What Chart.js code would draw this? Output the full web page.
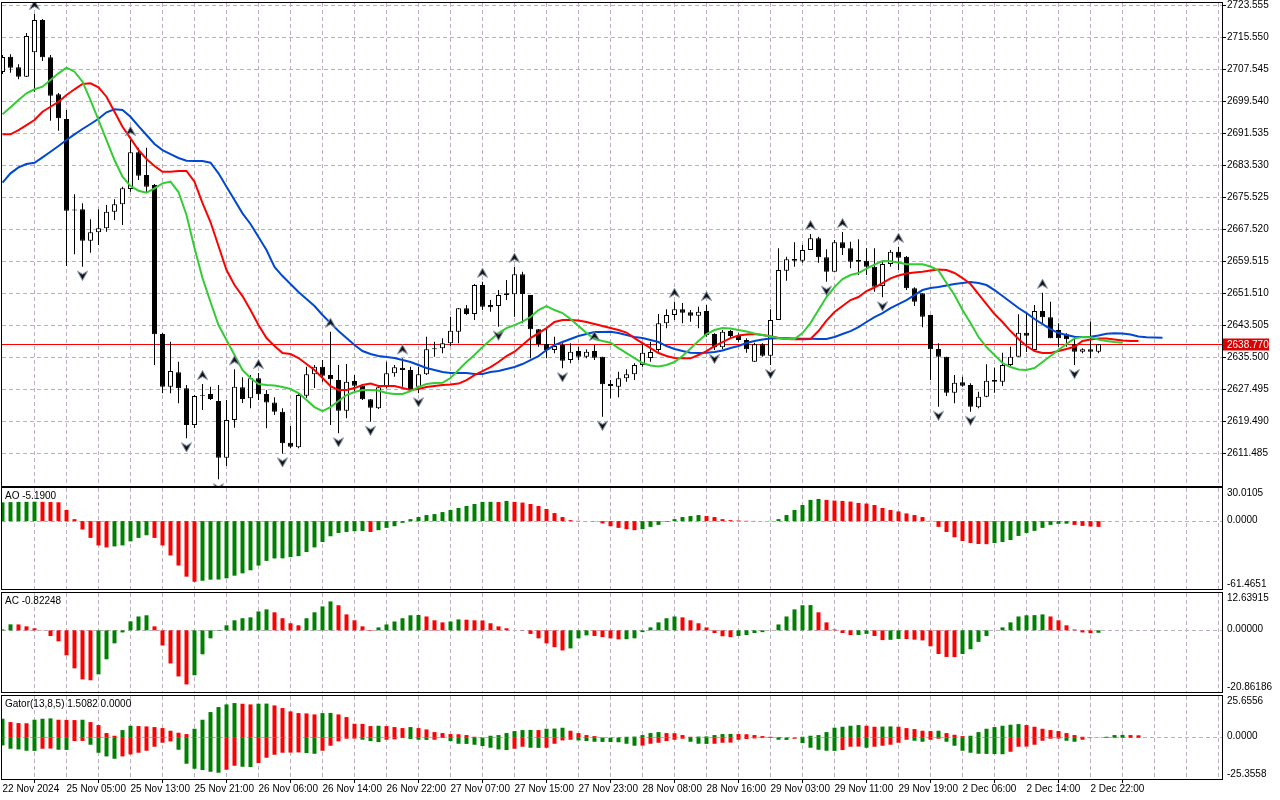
<!DOCTYPE html>
<html>
<head>
<meta charset="utf-8">
<title>XAUUSD H1</title>
<script src="https://cdn.jsdelivr.net/npm/chart.js@4.4.1/dist/chart.umd.min.js"></script>
<style>
  html, body { margin: 0; padding: 0; background: #fff; }
  #wrap { position: relative; width: 1280px; height: 800px; overflow: hidden; }
  canvas { position: absolute; left: 0; }
</style>
</head>
<body>
<div id="wrap">
  <canvas id="js--main" width="1280" height="487" style="top:0px"></canvas>
  <canvas id="js--ao" width="1280" height="103" style="top:487px"></canvas>
  <canvas id="js--ac" width="1280" height="104" style="top:590px"></canvas>
  <canvas id="js--gator" width="1280" height="106" style="top:694px"></canvas>
</div>
<script>
// time axis, one label every 8 bars
const timeLabels = ['22 Nov 2024', '25 Nov 05:00', '25 Nov 13:00', '25 Nov 21:00', '26 Nov 06:00', '26 Nov 14:00',
  '26 Nov 22:00', '27 Nov 07:00', '27 Nov 15:00', '27 Nov 23:00', '28 Nov 08:00', '28 Nov 16:00',
  '29 Nov 03:00', '29 Nov 11:00', '29 Nov 19:00', '2 Dec 06:00', '2 Dec 14:00', '2 Dec 22:00'];

const priceTicks = [2723.555, 2715.550, 2707.545, 2699.540, 2691.535, 2683.530, 2675.525, 2667.520,
  2659.515, 2651.510, 2643.505, 2635.500, 2627.495, 2619.490, 2611.485];
const lastPrice = 2638.77;

// candles (H1)
const opens = [2706.87, 2710.69, 2708.04, 2705.69, 2711.79, 2719.88, 2710.54, 2701.29, 2695.11, 2672.46,
  2672.51, 2664.66, 2666.76, 2667.76, 2671.91, 2673.76, 2677.59, 2686.77, 2681.09, 2678.59,
  2641.31, 2628.13, 2631.73, 2627.73, 2618.54, 2625.98, 2626.30, 2624.55, 2610.36, 2619.80,
  2627.98, 2625.23, 2630.23, 2626.30, 2624.22, 2621.87, 2614.12, 2612.97, 2625.88, 2631.23,
  2633.13, 2631.05, 2629.80, 2622.12, 2629.55, 2628.38, 2624.98, 2622.72, 2628.13, 2631.48,
  2632.88, 2632.31, 2628.13, 2631.23, 2637.74, 2637.74, 2638.99, 2641.89, 2647.74, 2646.32,
  2653.57, 2648.57, 2648.32, 2651.50, 2651.25, 2656.25, 2651.07, 2642.49, 2638.81, 2637.31,
  2638.56, 2634.81, 2637.06, 2635.63, 2637.06, 2635.63, 2628.80, 2628.13, 2630.23, 2631.23,
  2633.56, 2635.31, 2637.31, 2643.99, 2646.07, 2647.49, 2646.74, 2645.89, 2647.07, 2641.31,
  2637.99, 2642.06, 2640.81, 2639.81, 2634.38, 2638.74, 2635.89, 2644.82, 2657.15, 2660.08,
  2659.65, 2662.33, 2665.26, 2660.50, 2656.90, 2664.26, 2662.76, 2659.83, 2659.65, 2658.15,
  2653.32, 2658.83, 2661.90, 2660.65, 2652.75, 2651.50, 2646.07, 2637.56, 2635.63, 2626.63,
  2629.23, 2628.55, 2622.97, 2625.63, 2629.80, 2629.38, 2633.56, 2635.63, 2641.64, 2637.31,
  2647.07, 2645.49, 2642.31, 2641.24, 2638.74, 2636.89, 2637.49, 2636.89];
const highs = [2711.12, 2711.29, 2708.79, 2716.62, 2721.38, 2720.13, 2711.12, 2701.61, 2697.36, 2676.27,
  2674.01, 2670.01, 2672.51, 2673.59, 2675.02, 2678.17, 2689.85, 2687.93, 2687.93, 2678.84,
  2641.56, 2639.39, 2634.38, 2628.55, 2626.05, 2628.80, 2628.13, 2628.55, 2624.80, 2632.48,
  2630.48, 2631.05, 2631.56, 2627.30, 2625.48, 2622.72, 2618.29, 2626.30, 2633.13, 2633.56,
  2634.81, 2641.89, 2633.56, 2633.81, 2631.05, 2628.80, 2625.05, 2628.13, 2634.38, 2633.56,
  2635.23, 2633.13, 2633.13, 2640.64, 2639.39, 2640.24, 2645.64, 2647.82, 2648.57, 2653.82,
  2654.40, 2649.82, 2652.32, 2654.82, 2658.15, 2656.90, 2651.07, 2642.56, 2642.81, 2640.64,
  2638.99, 2638.99, 2638.14, 2637.49, 2638.56, 2635.63, 2629.80, 2631.88, 2632.48, 2633.98,
  2638.99, 2639.39, 2646.32, 2647.49, 2649.39, 2649.07, 2647.32, 2648.14, 2648.57, 2641.49,
  2642.31, 2642.31, 2641.49, 2640.24, 2639.14, 2638.99, 2647.49, 2662.76, 2660.65, 2664.26,
  2663.58, 2666.33, 2665.66, 2662.51, 2664.83, 2666.83, 2664.41, 2665.01, 2662.76, 2662.76,
  2659.40, 2662.33, 2663.16, 2660.83, 2653.00, 2651.50, 2646.07, 2638.99, 2635.63, 2631.05,
  2630.63, 2628.98, 2626.88, 2633.73, 2632.88, 2636.63, 2638.14, 2646.24, 2646.32, 2648.57,
  2651.65, 2649.39, 2643.99, 2641.49, 2640.64, 2637.74, 2644.39, 2638.80];
const lows = [2706.37, 2706.69, 2705.04, 2705.61, 2701.94, 2709.62, 2694.68, 2692.18, 2658.33, 2661.25,
  2658.15, 2661.65, 2663.58, 2666.91, 2669.84, 2668.58, 2676.92, 2679.84, 2676.59, 2633.56,
  2626.48, 2626.48, 2623.97, 2615.22, 2617.79, 2622.30, 2624.80, 2604.96, 2608.29, 2617.87,
  2624.05, 2622.72, 2624.80, 2617.72, 2621.05, 2611.46, 2612.72, 2612.72, 2625.30, 2627.80,
  2629.38, 2618.54, 2616.47, 2620.22, 2626.48, 2624.80, 2619.37, 2622.55, 2627.73, 2630.63,
  2628.13, 2627.30, 2626.48, 2631.05, 2635.63, 2636.48, 2638.31, 2638.99, 2646.07, 2644.82,
  2647.32, 2646.89, 2643.14, 2649.82, 2645.64, 2643.99, 2635.23, 2638.14, 2635.23, 2636.48,
  2632.73, 2633.98, 2634.81, 2635.23, 2634.81, 2620.62, 2625.23, 2625.48, 2629.38, 2629.80,
  2633.13, 2634.38, 2636.89, 2642.74, 2644.82, 2643.99, 2644.39, 2642.74, 2640.64, 2637.31,
  2637.49, 2640.24, 2639.39, 2636.63, 2634.38, 2635.63, 2633.56, 2644.82, 2654.65, 2658.15,
  2659.15, 2662.33, 2659.15, 2654.40, 2656.90, 2661.08, 2657.75, 2656.07, 2656.07, 2651.90,
  2650.50, 2658.15, 2657.33, 2652.32, 2648.32, 2642.99, 2629.80, 2623.12, 2625.80, 2623.97,
  2628.13, 2621.87, 2622.72, 2625.48, 2626.63, 2628.30, 2632.98, 2635.63, 2636.81, 2636.81,
  2643.99, 2640.24, 2638.14, 2638.14, 2633.56, 2636.48, 2635.23, 2636.48];
const closes = [2710.62, 2707.94, 2705.69, 2715.87, 2719.88, 2710.54, 2700.94, 2695.28, 2672.16, 2672.21,
  2664.66, 2666.76, 2667.76, 2671.91, 2673.76, 2677.77, 2686.77, 2680.92, 2678.17, 2641.24,
  2628.13, 2632.06, 2627.73, 2618.54, 2625.80, 2625.80, 2625.05, 2610.36, 2619.80, 2628.13,
  2625.05, 2630.23, 2626.23, 2624.22, 2621.87, 2613.97, 2613.12, 2626.05, 2631.23, 2633.13,
  2630.88, 2629.98, 2622.12, 2629.38, 2628.38, 2624.98, 2622.87, 2627.98, 2631.48, 2632.98,
  2632.31, 2627.55, 2631.23, 2637.49, 2637.49, 2638.99, 2642.14, 2647.74, 2646.32, 2653.57,
  2648.14, 2647.99, 2651.07, 2651.07, 2656.25, 2651.32, 2642.49, 2638.81, 2637.31, 2638.31,
  2634.63, 2636.89, 2635.63, 2636.89, 2635.38, 2628.73, 2628.30, 2630.23, 2631.23, 2633.56,
  2636.63, 2636.81, 2643.99, 2646.07, 2647.49, 2646.64, 2645.89, 2646.89, 2641.06, 2637.99,
  2641.89, 2640.81, 2639.81, 2637.49, 2638.74, 2635.89, 2644.82, 2657.33, 2660.00, 2659.65,
  2662.33, 2665.26, 2660.50, 2656.90, 2664.26, 2662.76, 2659.40, 2659.40, 2658.15, 2653.15,
  2658.83, 2661.90, 2660.40, 2652.75, 2649.39, 2645.64, 2637.49, 2635.63, 2626.63, 2629.13,
  2628.38, 2623.12, 2625.63, 2629.63, 2629.38, 2633.56, 2635.63, 2641.64, 2640.89, 2647.07,
  2645.49, 2640.24, 2640.24, 2639.99, 2636.89, 2637.49, 2636.89, 2638.77];

// Alligator (jaw shifted 8, teeth 5, lips 3 bars forward)
const jaw = [2679.17, 2681.52, 2683.02, 2683.85, 2684.17, 2685.52, 2686.93, 2688.35, 2689.85, 2691.28,
  2692.60, 2693.86, 2695.18, 2696.78, 2697.53, 2697.36, 2695.68, 2693.35, 2691.10, 2688.85,
  2687.35, 2686.35, 2685.35, 2684.67, 2684.60, 2684.60, 2684.17, 2681.52, 2678.17, 2674.84,
  2671.51, 2668.84, 2665.58, 2662.33, 2658.08, 2655.82, 2653.82, 2651.82, 2650.07, 2648.32,
  2646.07, 2644.07, 2642.06, 2640.31, 2638.56, 2637.06, 2636.31, 2635.81, 2635.56, 2635.31,
  2634.81, 2634.31, 2633.56, 2632.81, 2632.31, 2631.81, 2631.56, 2631.56, 2631.56, 2631.31,
  2631.31, 2631.81, 2632.06, 2632.56, 2633.06, 2633.81, 2634.81, 2635.81, 2637.31, 2638.56,
  2639.31, 2640.06, 2640.81, 2641.31, 2641.81, 2641.81, 2641.89, 2641.56, 2641.06, 2640.56,
  2640.31, 2639.81, 2639.31, 2638.31, 2637.56, 2637.06, 2636.63, 2636.56, 2636.63, 2636.81,
  2637.18, 2637.81, 2638.31, 2639.06, 2639.56, 2639.94, 2640.19, 2640.24, 2640.24, 2640.19,
  2640.16, 2640.14, 2640.06, 2640.06, 2640.56, 2641.31, 2642.06, 2643.06, 2644.32, 2645.57,
  2646.57, 2647.82, 2648.82, 2649.82, 2651.07, 2652.32, 2652.82, 2653.07, 2653.45, 2653.82,
  2654.07, 2654.32, 2654.07, 2653.57, 2652.32, 2650.82, 2649.32, 2647.82, 2646.57, 2645.07,
  2643.82, 2642.56, 2641.56, 2641.06, 2640.64, 2640.56, 2640.64, 2640.94, 2641.36, 2641.49,
  2641.44, 2641.19, 2640.69, 2640.51, 2640.44, 2640.39];
const teeth = [2691.28, 2691.28, 2692.35, 2693.60, 2694.86, 2696.93, 2698.18, 2699.43, 2701.11, 2702.54,
  2703.86, 2704.04, 2703.04, 2700.69, 2696.93, 2693.18, 2690.28, 2687.35, 2685.10, 2683.35,
  2681.92, 2681.92, 2682.10, 2682.10, 2679.42, 2674.09, 2669.34, 2663.33, 2657.33, 2653.57,
  2650.82, 2647.32, 2643.56, 2640.31, 2638.31, 2636.56, 2636.31, 2635.31, 2633.81, 2632.31,
  2630.30, 2628.30, 2627.30, 2627.30, 2627.80, 2628.55, 2628.93, 2628.30, 2628.30, 2628.30,
  2627.80, 2627.30, 2627.55, 2628.05, 2628.30, 2628.55, 2628.68, 2628.93, 2629.80, 2631.05,
  2632.06, 2633.06, 2634.31, 2635.81, 2636.89, 2638.56, 2640.31, 2641.56, 2642.81, 2644.32,
  2644.82, 2644.82, 2644.69, 2644.32, 2643.82, 2643.31, 2642.81, 2642.31, 2641.69, 2640.31,
  2639.06, 2637.81, 2636.56, 2635.81, 2635.31, 2635.23, 2635.23, 2636.06, 2637.06, 2638.31,
  2639.31, 2640.31, 2640.94, 2641.19, 2641.31, 2641.06, 2640.74, 2640.31, 2640.06, 2639.99,
  2639.99, 2640.06, 2642.06, 2644.69, 2646.82, 2648.32, 2649.82, 2650.57, 2652.07, 2652.95,
  2654.07, 2655.25, 2655.95, 2656.45, 2656.70, 2656.90, 2657.20, 2657.45, 2657.33, 2656.58,
  2655.32, 2653.82, 2651.32, 2648.82, 2646.32, 2644.32, 2642.06, 2640.06, 2638.31, 2637.06,
  2636.56, 2636.56, 2637.06, 2637.56, 2638.14, 2639.56, 2639.94, 2640.19, 2640.19, 2639.94,
  2639.69, 2639.56, 2639.56];
const lips = [2696.28, 2698.03, 2699.86, 2701.54, 2702.54, 2703.19, 2704.86, 2706.54, 2707.94, 2706.94,
  2704.44, 2699.86, 2694.86, 2689.85, 2684.85, 2680.67, 2678.34, 2677.17, 2676.67, 2677.77,
  2679.02, 2679.42, 2676.84, 2671.09, 2662.83, 2655.32, 2649.32, 2643.56, 2639.81, 2636.06,
  2632.31, 2630.30, 2628.80, 2628.55, 2628.43, 2628.05, 2627.55, 2626.55, 2624.80, 2623.05,
  2622.05, 2623.05, 2624.55, 2626.05, 2626.80, 2627.30, 2627.30, 2627.18, 2626.55, 2626.30,
  2626.30, 2627.05, 2628.05, 2628.80, 2629.05, 2629.13, 2630.30, 2632.31, 2634.31, 2636.06,
  2638.06, 2639.81, 2641.56, 2642.81, 2643.56, 2644.44, 2645.57, 2647.32, 2648.32, 2647.32,
  2646.57, 2645.07, 2643.31, 2641.56, 2640.06, 2639.56, 2639.14, 2637.81, 2636.56, 2635.31,
  2634.06, 2633.43, 2633.18, 2633.56, 2634.31, 2635.81, 2637.69, 2639.56, 2641.31, 2642.31,
  2642.81, 2642.69, 2642.31, 2641.94, 2641.44, 2641.06, 2640.69, 2640.31, 2640.06, 2640.06,
  2641.56, 2644.07, 2647.32, 2650.57, 2653.07, 2655.07, 2656.07, 2656.58, 2657.70, 2658.70,
  2659.58, 2659.50, 2659.20, 2658.75, 2658.75, 2658.75, 2658.20, 2657.20, 2654.07, 2651.07,
  2647.32, 2644.07, 2640.56, 2638.06, 2636.06, 2634.06, 2633.06, 2632.43, 2632.31, 2632.81,
  2634.31, 2635.81, 2637.31, 2638.81, 2640.24, 2640.56, 2640.49, 2639.94, 2639.56, 2639.31,
  2639.14];

// bar indexes that carry a fractal
const fractalUp = [4, 16, 25, 29, 32, 41, 50, 60, 64, 74, 84, 88, 101, 105, 112, 130];
const fractalDown = [10, 23, 27, 35, 42, 46, 52, 62, 70, 75, 89, 96, 103, 110, 117, 121, 134];

// sub windows
const ao = [17.0, 17.2, 17.4, 17.5, 17.6, 17.5, 17.3, 17.1, 10.1, 1.8,
  -7.6, -15.2, -22.0, -23.8, -22.9, -22.0, -18.3, -15.2, -12.8, -15.2,
  -22.0, -31.1, -40.2, -50.3, -54.9, -54.0, -53.0, -52.9, -51.8, -49.4,
  -47.3, -44.5, -40.2, -36.0, -33.8, -33.7, -32.6, -31.7, -28.0, -23.8,
  -18.9, -13.7, -10.7, -9.8, -9.1, -8.9, -9.8, -8.2, -6.1, -4.6,
  -1.5, 1.8, 3.7, 5.5, 6.4, 8.2, 10.1, 11.9, 13.7, 15.5,
  17.4, 17.5, 17.3, 18.3, 17.4, 16.8, 15.5, 13.7, 11.0, 7.3,
  3.7, 0.9, 0.3, 0.1, -0.3, -2.1, -4.6, -6.1, -7.3, -8.2,
  -7.3, -5.2, -3.4, -0.6, 1.8, 3.7, 4.6, 5.5, 4.6, 3.7,
  1.8, 0.9, 0.6, 0.3, 0.2, 0.1, 0.3, 1.8, 5.5, 10.1,
  14.6, 19.2, 20.1, 19.2, 18.6, 18.3, 17.7, 16.5, 15.9, 14.6,
  11.9, 10.1, 8.8, 7.0, 5.5, 3.7, 0.3, -5.2, -9.8, -14.6,
  -18.0, -19.8, -20.7, -20.9, -19.8, -18.9, -17.1, -13.4, -10.7, -8.8,
  -6.1, -3.4, -2.4, -2.3, -3.4, -4.3, -4.9, -5.19];
const ac = [0.3, 2.03, 2.0, 1.35, 0.68, -0.05, -1.92, -3.72, -8.46, -12.85,
  -16.6, -16.9, -14.9, -9.8, -4.4, -0.7, 3.04, 4.7, 5.1, 1.35,
  -5.1, -11.2, -15.6, -18.3, -15.2, -8.1, -2.7, -0.2, 1.7, 3.4,
  4.1, 4.4, 6.4, 7.1, 6.1, 4.1, 2.4, 1.7, 4.1, 6.1,
  8.1, 9.8, 8.5, 5.4, 3.4, 1.35, -0.2, 1.0, 2.0, 3.0,
  4.1, 5.1, 5.2, 4.7, 3.4, 2.7, 3.0, 3.7, 3.6, 3.4,
  3.35, 2.4, 1.35, 0.7, 0.0, -0.1, -1.2, -2.7, -4.4, -5.7,
  -6.8, -6.1, -2.7, -1.7, -1.9, -2.3, -2.7, -3.05, -3.0, -2.7,
  -0.6, 1.0, 2.7, 4.1, 4.7, 4.4, 3.4, 2.4, 1.0, -0.9,
  -2.0, -2.3, -1.9, -1.6, -0.9, -0.6, 0.05, 2.0, 4.7, 7.1,
  8.5, 8.55, 6.1, 2.7, 0.3, -0.9, -1.6, -1.55, -1.2, -1.9,
  -3.3, -3.2, -2.9, -2.95, -3.15, -3.4, -5.4, -8.0, -9.0, -9.05,
  -8.0, -6.4, -3.9, -1.9, 0.0, 1.0, 2.7, 4.7, 5.1, 5.15,
  5.4, 4.7, 3.4, 1.7, 0.3, -0.7, -0.95, -0.82248];
const gatorUp = [11.68, 9.63, 9.02, 8.91, 11.07, 11.68, 11.89, 11.07, 10.96, 10.86,
  11.07, 9.63, 7.79, 2.87, 1.23, 4.71, 7.38, 7.17, 6.97, 6.56,
  5.94, 4.30, 3.07, 2.25, 5.53, 11.07, 15.78, 18.85, 20.49, 21.31,
  20.90, 20.49, 20.90, 21.00, 19.88, 18.24, 16.19, 15.16, 14.96, 14.34,
  15.16, 15.27, 14.34, 12.70, 8.61, 8.50, 7.17, 7.38, 7.17, 6.56,
  5.94, 6.56, 5.94, 5.12, 3.48, 2.87, 2.25, 2.15, 1.64, 0.61,
  0.20, 1.23, 1.64, 2.87, 4.10, 4.71, 4.82, 4.71, 5.53, 5.64,
  6.15, 4.30, 2.87, 1.64, 1.02, 0.20, 0.10, 0.20, 0.61, 0.72,
  1.64, 2.87, 3.48, 2.87, 2.77, 1.64, 0.61, 0.72, 0.82, 1.64,
  2.25, 2.36, 2.25, 2.15, 1.64, 1.02, 0.61, 0.41, 0.20, 0.10,
  0.61, 1.23, 1.64, 3.48, 6.15, 6.76, 7.38, 7.79, 7.38, 6.76,
  6.86, 6.97, 6.76, 5.94, 5.33, 4.30, 4.10, 4.30, 2.87, 1.84,
  1.02, 1.23, 3.48, 5.53, 6.56, 7.38, 7.99, 8.40, 7.79, 6.76,
  5.53, 4.71, 4.10, 2.87, 1.64, 0.61, 0.10, 0.04, 0.61, 1.64,
  1.74, 1.64, 1.5082];
const gatorDown = [-4.71, -6.76, -7.17, -7.99, -8.09, -6.76, -6.66, -7.38, -7.48, -2.05,
  -1.95, -4.30, -9.22, -11.48, -12.91, -11.48, -10.25, -9.22, -7.99, -5.53,
  -3.07, -2.25, -7.38, -15.98, -19.06, -19.88, -20.90, -21.52, -19.67, -17.21,
  -17.83, -18.03, -15.57, -12.30, -10.45, -9.22, -9.12, -9.02, -9.43, -9.84,
  -7.99, -4.92, -2.25, -0.61, -0.51, -1.23, -2.05, -2.66, -1.23, -1.02,
  -0.20, -0.82, -1.23, -1.33, -1.23, -0.20, -2.05, -3.69, -3.79, -4.30,
  -5.12, -6.15, -7.17, -7.58, -6.76, -5.53, -6.15, -6.25, -6.15, -3.69,
  -1.64, -1.23, -1.64, -2.05, -2.46, -2.56, -2.66, -2.77, -3.69, -4.92,
  -4.82, -3.69, -3.07, -2.05, -1.23, -0.61, -2.46, -3.69, -3.79, -3.69,
  -3.07, -2.97, -1.23, -0.82, -0.41, -0.20, -0.10, -1.23, -1.33, -0.61,
  -3.28, -6.15, -7.38, -7.99, -8.09, -7.58, -5.53, -5.43, -6.15, -5.53,
  -4.92, -4.30, -3.07, -1.23, -1.84, -2.46, -1.23, -0.61, -2.46, -4.92,
  -7.99, -9.22, -9.84, -9.94, -10.04, -10.14, -8.61, -5.53, -5.43, -4.30,
  -1.84, -0.61, -0.51, -1.84, -2.46, -1.23, -0.20, -0.10, -0.06, -0.02,
  0];

const aoRange = [-61.4651, 30.0105];
const acRange = [-20.86186, 12.63915];
const gatorRange = [-25.3558, 25.6556];

// ---- styling ----
const FONT = '"Liberation Sans", Arial, sans-serif';
const FONT_SIZE = 10;
const GRID = '#bdb1c0';
const UP_GREEN = '#008000';
const DOWN_RED = '#ff0000';
const X_MIN = -0.0625;          // 8 px per bar, first bar at x=2.5
const X_MAX = X_MIN + 1220 / 8;

const pts = arr => arr.map((v, i) => ({ x: i, y: v }));

// AO / AC: green while the value rises
function trendColors(arr) {
  return arr.map((v, i) => (i === 0 || v > arr[i - 1]) ? UP_GREEN : DOWN_RED);
}
// Gator: green while the bar grows
function sizeColors(arr) {
  return arr.map((v, i) => (i === 0 || Math.abs(v) > Math.abs(arr[i - 1])) ? UP_GREEN : DOWN_RED);
}

function makeArrow(up) {
  const c = document.createElement('canvas');
  c.width = 11;
  c.height = 28;
  const g = c.getContext('2d');
  if (!up) {
    g.translate(0, 28);
    g.scale(1, -1);
  }
  g.beginPath();
  g.moveTo(5.5, 0.5);
  g.lineTo(10.5, 9.5);
  g.lineTo(5.5, 6.5);
  g.lineTo(0.5, 9.5);
  g.closePath();
  g.fillStyle = '#111';
  g.fill();
  g.strokeStyle = '#7f8ea8';
  g.lineWidth = 1;
  g.stroke();
  return c;
}

// no extra room for the first/last tick labels
function noPad(s) {
  s.paddingTop = 0;
  s.paddingBottom = 0;
  s.paddingLeft = 0;
  s.paddingRight = 0;
}

// grid, frame, labels and current price marker
const decor = {
  id: 'decor',
  beforeDatasetsDraw(chart, args, opts) {
    const { ctx, chartArea: a, scales: { x, y } } = chart;
    ctx.save();
    ctx.strokeStyle = GRID;
    ctx.lineWidth = 1;
    ctx.setLineDash([4, 3]);
    ctx.beginPath();
    for (let i = 4; i < X_MAX; i += 4) {
      const px = Math.floor(x.getPixelForValue(i)) + 0.5;
      ctx.moveTo(px, a.top);
      ctx.lineTo(px, a.bottom);
    }
    (opts.hLines || []).forEach(v => {
      const py = Math.floor(y.getPixelForValue(v)) + 0.5;
      ctx.moveTo(a.left, py);
      ctx.lineTo(a.right, py);
    });
    ctx.stroke();
    ctx.setLineDash([]);
    if (opts.price !== undefined) {
      const py = Math.floor(y.getPixelForValue(opts.price)) + 0.5;
      ctx.strokeStyle = '#ff0000';
      ctx.beginPath();
      ctx.moveTo(a.left, py);
      ctx.lineTo(a.right, py);
      ctx.stroke();
    }
    ctx.restore();
  },
  afterDraw(chart, args, opts) {
    const { ctx, chartArea: a, scales: { y } } = chart;
    ctx.save();
    ctx.strokeStyle = '#000';
    ctx.lineWidth = 1;
    ctx.strokeRect(a.left - 0.5, a.top - 0.5, a.right - a.left + 1, a.bottom - a.top + 1);
    ctx.font = FONT_SIZE + 'px ' + FONT;
    ctx.fillStyle = '#000';
    ctx.textBaseline = 'middle';
    ctx.textAlign = 'left';
    if (opts.title) {
      ctx.fillText(opts.title, 5, a.top + 8.5);
    }
    if (opts.range) {
      const d = opts.digits;
      ctx.fillText(opts.range[1].toFixed(d), a.right + 5, a.top + 5);
      ctx.fillText((0).toFixed(d), a.right + 5, y.getPixelForValue(0) - 1);
      ctx.fillText(opts.range[0].toFixed(d), a.right + 5, a.bottom - 5);
    }
    if (opts.price !== undefined) {
      const py = Math.floor(y.getPixelForValue(opts.price)) + 0.5;
      ctx.fillStyle = '#dc0000';
      ctx.fillRect(a.right + 1, py - 6, 46, 12);
      ctx.fillStyle = '#fff';
      ctx.fillText(opts.price.toFixed(3), a.right + 5, py + 0.5);
    }
    ctx.restore();
  }
};

function xAxis(show) {
  const axis = {
    type: 'linear',
    min: X_MIN,
    max: X_MAX,
    offset: false,
    display: show,
    border: { display: false },
    grid: { display: show, drawOnChartArea: false, drawTicks: true, tickLength: 4, tickColor: '#000' }
  };
  if (show) {
    axis.afterFit = s => { s.height = 21; noPad(s); };
    axis.afterBuildTicks = s => { s.ticks = timeLabels.map((t, k) => ({ value: k * 8 })); };
    axis.ticks = {
      autoSkip: false, maxRotation: 0, minRotation: 0, align: 'start', padding: 0,
      color: '#000', font: { family: FONT, size: FONT_SIZE },
      callback: v => timeLabels[Math.round(v / 8)] || ''
    };
  }
  return axis;
}

function subY(range) {
  return {
    position: 'right',
    min: range[0],
    max: range[1],
    afterFit: s => { s.width = 58; noPad(s); },
    border: { display: false },
    grid: { display: false },
    ticks: { display: false }
  };
}

const common = {
  responsive: false,
  animation: false,
  events: []
};

const barStyle = {
  type: 'bar',
  grouped: false,
  categoryPercentage: 1,
  barPercentage: 1,
  inflateAmount: 0,
  borderWidth: 0
};

// ---- main window ----
const bodyColors = closes.map((c, i) => c >= opens[i] ? '#ffffff' : '#000000');

new Chart(document.getElementById('js--main'), {
  type: 'bar',
  data: {
    datasets: [
      { type: 'line', data: fractalUp.map(i => ({ x: i, y: highs[i] })), showLine: false,
        pointStyle: makeArrow(true), pointRadius: 3, order: 0 },
      { type: 'line', data: fractalDown.map(i => ({ x: i, y: lows[i] })), showLine: false,
        pointStyle: makeArrow(false), pointRadius: 3, order: 0 },
      { type: 'line', data: pts(lips), borderColor: '#33cc33', borderWidth: 2, pointRadius: 0, tension: 0, order: 0 },
      { type: 'line', data: pts(teeth), borderColor: '#ff0000', borderWidth: 2, pointRadius: 0, tension: 0, order: 0 },
      { type: 'line', data: pts(jaw), borderColor: '#0047d4', borderWidth: 2, pointRadius: 0, tension: 0, order: 0 },
      Object.assign({}, barStyle, {
        data: opens.map((o, i) => ({ x: i, y: [o, closes[i]] })),
        backgroundColor: bodyColors, borderColor: '#000', borderWidth: 1, borderSkipped: false,
        maxBarThickness: 5, order: 1
      }),
      Object.assign({}, barStyle, {
        data: lows.map((l, i) => ({ x: i, y: [l, highs[i]] })),
        backgroundColor: '#000', maxBarThickness: 1, order: 2
      })
    ]
  },
  options: Object.assign({}, common, {
    layout: { autoPadding: false, padding: { left: 2, right: 0, top: 3, bottom: 1 } },
    plugins: { legend: { display: false }, tooltip: { enabled: false },
      decor: { hLines: priceTicks, price: lastPrice } },
    scales: {
      x: xAxis(false),
      y: {
        position: 'right',
        min: 2603.30,
        max: 2724.13,
        afterFit: s => { s.width = 58; noPad(s); },
        afterBuildTicks: s => { s.ticks = priceTicks.map(v => ({ value: v })); },
        border: { display: false },
        grid: { display: true, drawOnChartArea: false, drawTicks: true, tickLength: 4, tickColor: '#000' },
        ticks: { padding: 1, color: '#000', font: { family: FONT, size: FONT_SIZE }, callback: v => v.toFixed(3) }
      }
    }
  }),
  plugins: [decor]
});

// ---- indicator windows ----
function subChart(id, datasets, range, digits, title, padding, showTime) {
  new Chart(document.getElementById(id), {
    type: 'bar',
    data: { datasets },
    options: Object.assign({}, common, {
      layout: { autoPadding: false, padding },
      plugins: { legend: { display: false }, tooltip: { enabled: false },
        decor: { hLines: [0], range, digits, title } },
      scales: { x: xAxis(showTime), y: subY(range) }
    }),
    plugins: [decor]
  });
}

subChart('js--ao', [
  Object.assign({}, barStyle, { data: pts(ao), backgroundColor: trendColors(ao), maxBarThickness: 4 })
], aoRange, 4, 'AO -5.1900', { left: 2, right: 0, top: 1, bottom: 1 }, false);

subChart('js--ac', [
  Object.assign({}, barStyle, { data: pts(ac), backgroundColor: trendColors(ac), maxBarThickness: 4 })
], acRange, 5, 'AC -0.82248', { left: 2, right: 0, top: 3, bottom: 2 }, false);

subChart('js--gator', [
  Object.assign({}, barStyle, { data: pts(gatorUp), backgroundColor: sizeColors(gatorUp), maxBarThickness: 4 }),
  Object.assign({}, barStyle, { data: pts(gatorDown), backgroundColor: sizeColors(gatorDown), maxBarThickness: 4 })
], gatorRange, 4, 'Gator(13,8,5) 1.5082 0.0000', { left: 2, right: 0, top: 2, bottom: 0 }, true);
</script>
</body>
</html>
